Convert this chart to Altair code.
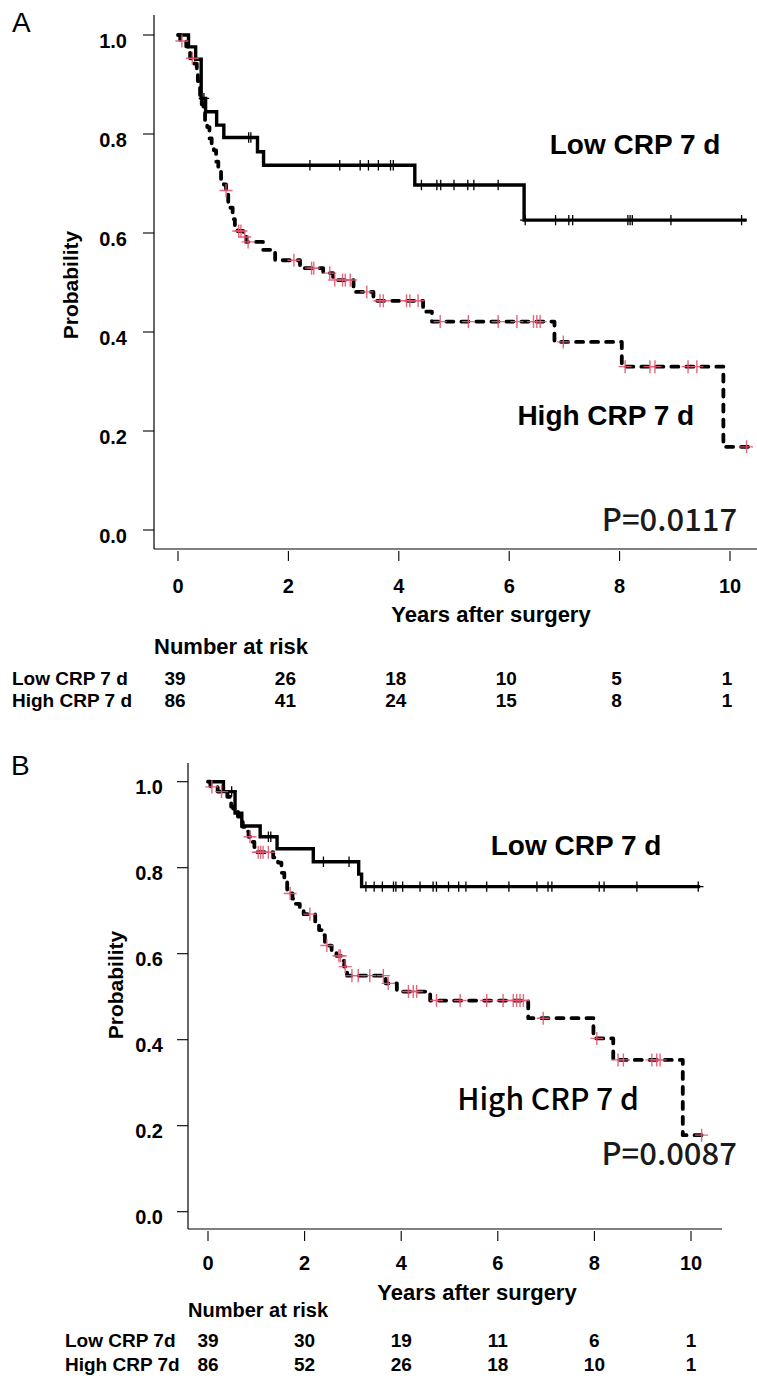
import altair as alt
import pandas as pd

W, H = 757, 1379
ARIAL = "Liberation Sans, Arial, Helvetica, sans-serif"
CJK = "Noto Sans CJK JP, Noto Sans, sans-serif"
PINK = "#E4576F"

# ---------------- Panel A data ----------------
A_LOW_T = [0, 0.19, 0.32, 0.42, 0.50, 0.70, 0.83, 1.44, 1.55, 4.29, 6.27, 10.30]
A_LOW_S = [1.0, 0.976, 0.951, 0.872, 0.845, 0.818, 0.793, 0.764, 0.737, 0.697, 0.626, 0.626]
A_LOW_CT = [0.47, 1.28, 1.32, 2.39, 2.93, 3.30, 3.45, 3.63, 3.85, 3.90, 4.41, 4.69, 4.76,
            5.00, 5.25, 5.36, 5.80, 6.29, 6.84, 7.08, 7.15, 8.15, 8.19, 8.23, 8.93, 10.21]
A_LOW_CS = [0.872, 0.793, 0.793, 0.737, 0.737, 0.737, 0.737, 0.737, 0.737, 0.737, 0.697, 0.697, 0.697,
            0.697, 0.697, 0.697, 0.697, 0.626, 0.626, 0.626, 0.626, 0.626, 0.626, 0.626, 0.626, 0.626]

A_HIGH_T = [0, 0.04, 0.15, 0.22, 0.30, 0.34, 0.36, 0.38, 0.40, 0.43, 0.46, 0.49, 0.53, 0.57, 0.61,
            0.65, 0.69, 0.73, 0.78, 0.83, 0.87, 0.91, 0.95, 0.99, 1.03, 1.08, 1.18, 1.24, 1.54,
            1.76, 2.21, 2.63, 2.81, 3.18, 3.54, 4.44, 4.60, 6.82, 8.04, 9.88, 10.35]
A_HIGH_S = [1.0, 0.988, 0.977, 0.953, 0.942, 0.930, 0.907, 0.895, 0.872, 0.860, 0.849, 0.826, 0.814,
            0.791, 0.779, 0.767, 0.744, 0.733, 0.709, 0.698, 0.686, 0.663, 0.651, 0.628, 0.616,
            0.604, 0.592, 0.582, 0.566, 0.545, 0.529, 0.519, 0.505, 0.481, 0.463, 0.441, 0.421,
            0.380, 0.330, 0.168, 0.168]
A_HIGH_CT = [0.07, 0.26, 0.87, 1.10, 1.14, 1.21, 1.27, 2.10, 2.42, 2.46, 2.75, 2.84, 2.98, 3.03,
             3.12, 3.42, 3.66, 3.72, 4.14, 4.20, 4.35, 4.75, 5.26, 5.80, 6.14, 6.44, 6.50, 6.56,
             6.98, 8.10, 8.55, 8.64, 9.24, 9.40, 10.30]
A_HIGH_CS = [0.988, 0.953, 0.686, 0.604, 0.604, 0.592, 0.582, 0.545, 0.529, 0.529, 0.519, 0.505,
             0.505, 0.505, 0.505, 0.481, 0.463, 0.463, 0.463, 0.463, 0.463, 0.421, 0.421, 0.421,
             0.421, 0.421, 0.421, 0.421, 0.380, 0.330, 0.330, 0.330, 0.330, 0.330, 0.168]

# ---------------- Panel B data ----------------
B_LOW_T = [0, 0.32, 0.56, 0.70, 1.08, 1.43, 2.18, 3.12, 3.18, 10.19]
B_LOW_S = [1.0, 0.977, 0.927, 0.897, 0.872, 0.844, 0.814, 0.785, 0.756, 0.756]
B_LOW_CT = [0.49, 1.25, 1.30, 2.39, 2.92, 3.27, 3.44, 3.61, 3.84, 3.89, 4.03, 4.39, 4.66, 4.73,
            4.98, 5.19, 5.34, 5.77, 6.23, 6.81, 7.04, 7.12, 8.10, 8.20, 8.88, 10.15]
B_LOW_CS = [0.977, 0.872, 0.872, 0.814, 0.814, 0.756, 0.756, 0.756, 0.756, 0.756, 0.756, 0.756,
            0.756, 0.756, 0.756, 0.756, 0.756, 0.756, 0.756, 0.756, 0.756, 0.756, 0.756, 0.756,
            0.756, 0.756]

B_HIGH_T = [0, 0.05, 0.20, 0.40, 0.45, 0.48, 0.52, 0.62, 0.68, 0.72, 0.80, 0.84, 0.92, 0.96, 1.00,
            1.35, 1.45, 1.52, 1.58, 1.64, 1.75, 1.80, 1.90, 1.98, 2.22, 2.30, 2.36, 2.42, 2.56,
            2.66, 2.78, 2.82, 2.88, 3.68, 3.91, 4.60, 6.63, 7.98, 8.39, 9.83, 10.30]
B_HIGH_S = [1.0, 0.988, 0.977, 0.965, 0.953, 0.942, 0.930, 0.919, 0.907, 0.895, 0.884, 0.872,
            0.860, 0.848, 0.836, 0.824, 0.812, 0.788, 0.776, 0.740, 0.728, 0.716, 0.704, 0.692,
            0.668, 0.655, 0.643, 0.619, 0.607, 0.595, 0.583, 0.570, 0.549, 0.531, 0.512, 0.491,
            0.450, 0.403, 0.353, 0.178, 0.178]
B_HIGH_CT = [0.08, 0.28, 0.87, 1.04, 1.09, 1.14, 1.25, 1.70, 2.11, 2.46, 2.71, 2.74, 2.84, 2.98,
             3.11, 3.35, 3.63, 3.73, 4.15, 4.25, 4.32, 4.73, 5.22, 5.77, 6.11, 6.32, 6.39, 6.46,
             6.53, 6.94, 8.05, 8.49, 8.60, 9.19, 9.29, 9.36, 10.22]
B_HIGH_CS = [0.988, 0.977, 0.872, 0.836, 0.836, 0.836, 0.836, 0.740, 0.692, 0.619, 0.595, 0.595,
             0.570, 0.549, 0.549, 0.549, 0.549, 0.531, 0.512, 0.512, 0.512, 0.491, 0.491, 0.491,
             0.491, 0.491, 0.491, 0.491, 0.491, 0.450, 0.403, 0.353, 0.353, 0.353, 0.353, 0.353,
             0.178]

# ---------------- Number at risk ----------------
RISK_TIMES = [0, 2, 4, 6, 8, 10]
A_RISK_LOW = [39, 26, 18, 10, 5, 1]
A_RISK_HIGH = [86, 41, 24, 15, 8, 1]
B_RISK_LOW = [39, 30, 19, 11, 6, 1]
B_RISK_HIGH = [86, 52, 26, 18, 10, 1]

X_TICKS = [0, 2, 4, 6, 8, 10]
X_LABELS = ["0", "2", "4", "6", "8", "10"]
Y_TICKS = [0.0, 0.2, 0.4, 0.6, 0.8, 1.0]
Y_LABELS = ["0.0", "0.2", "0.4", "0.6", "0.8", "1.0"]

# annotations: text, t, s
A_NOTES = [("Low CRP 7 d", 8.28, 0.776), ("High CRP 7 d", 7.75, 0.228)]
A_P = ("P=0.0117", 10.13, 0.016)
B_NOTES = [("Low CRP 7 d", 7.62, 0.848)]
B_HIGH_NOTE = ("High CRP 7 d", 7.04, 0.257)
B_P = ("P=0.0087", 10.95, 0.130)

DUMMY = pd.DataFrame({"d": [0]})


def static_text(text, x, y, size, weight="bold", font=ARIAL, align="center",
                baseline="middle", angle=0):
    kw = dict(text=text, font=font, fontSize=size, fontWeight=weight, align=align,
              baseline=baseline, color="black")
    if angle:
        kw["angle"] = angle
    return alt.Chart(DUMMY).mark_text(**kw).encode(x=alt.value(x), y=alt.value(y))


def panel(g, low_t, low_s, low_ct, low_cs, high_t, high_s, high_ct, high_cs,
          risk_low, risk_high, notes, high_note_cjk, pnote):
    ppt = g["ppt"]
    ppu = g["y0"] - g["y1"]
    xdom = [-g["x0"] / ppt, (W - g["x0"]) / ppt]
    ydom = [(g["y0"] - H) / ppu, g["y0"] / ppu]
    xs = alt.Scale(domain=xdom, nice=False, zero=False)
    ys = alt.Scale(domain=ydom, nice=False, zero=False)

    def X(f):
        return alt.X(f, type="quantitative", scale=xs, axis=None)

    def Y(f):
        return alt.Y(f, type="quantitative", scale=ys, axis=None)

    low_df = pd.DataFrame({"t": low_t, "s": low_s})
    high_df = pd.DataFrame({"t": high_t, "s": high_s})
    lowc_df = pd.DataFrame({"t": low_ct, "s": low_cs})
    highc_df = pd.DataFrame({"t": high_ct, "s": high_cs})

    low_line = alt.Chart(low_df).mark_line(
        interpolate="step-after", color="black", strokeWidth=3.4, strokeCap="butt"
    ).encode(x=X("t"), y=Y("s"))
    high_line = alt.Chart(high_df).mark_line(
        interpolate="step-after", color="black", strokeWidth=3.8, strokeDash=[7, 8],
        strokeCap="round", strokeJoin="round"
    ).encode(x=X("t"), y=Y("s"))

    plus = "M-1,0L1,0M0,-1L0,1"
    low_c = alt.Chart(lowc_df).mark_point(
        shape=plus, filled=False, color="black", strokeWidth=1.3, size=110, opacity=1
    ).encode(x=X("t"), y=Y("s"))
    high_c = alt.Chart(highc_df).mark_point(
        shape=plus, filled=False, color=PINK, strokeWidth=1.4, size=170, opacity=0.9
    ).encode(x=X("t"), y=Y("s"))

    notes_df = pd.DataFrame({"label": [n[0] for n in notes], "t": [n[1] for n in notes],
                             "s": [n[2] for n in notes]})
    notes_layer = alt.Chart(notes_df).mark_text(
        font=ARIAL, fontSize=28, fontWeight="bold", color="black", align="center",
        baseline="middle"
    ).encode(x=X("t"), y=Y("s"), text="label:N")

    layers = [low_line, high_line, low_c, high_c, notes_layer]

    if high_note_cjk is not None:
        hn = pd.DataFrame({"label": [high_note_cjk[0]], "t": [high_note_cjk[1]],
                           "s": [high_note_cjk[2]]})
        layers.append(alt.Chart(hn).mark_text(
            font=CJK, fontSize=30, fontWeight=500, color="black", align="center",
            baseline="middle"
        ).encode(x=X("t"), y=Y("s"), text="label:N"))

    pdf = pd.DataFrame({"label": [pnote[0]], "t": [pnote[1]], "s": [pnote[2]]})
    layers.append(alt.Chart(pdf).mark_text(
        font=CJK, fontSize=31, fontWeight=500, color="#1a1a1a", align="right",
        baseline="middle"
    ).encode(x=X("t"), y=Y("s"), text="label:N"))

    # L-shaped frame
    layers.append(alt.Chart(DUMMY).mark_rule(color="black", strokeWidth=1.2).encode(
        x=alt.value(g["frame_left"]), y=alt.value(g["frame_top"]), y2=alt.value(g["frame_bottom"])))
    layers.append(alt.Chart(DUMMY).mark_rule(color="black", strokeWidth=1.2).encode(
        x=alt.value(g["frame_left"]), x2=alt.value(g["frame_right"]), y=alt.value(g["frame_bottom"])))

    # x axis ticks and labels (through the x scale)
    xt = pd.DataFrame({"t": X_TICKS, "lab": X_LABELS})
    layers.append(alt.Chart(xt).mark_rule(color="black", strokeWidth=1.1).encode(
        x=X("t"), y=alt.value(g["xtick_top"]), y2=alt.value(g["xtick_top"] + 10)))
    layers.append(alt.Chart(xt).mark_text(
        font=ARIAL, fontSize=g["tick_fs"], fontWeight="bold", color="black", align="center",
        baseline="middle"
    ).encode(x=X("t"), y=alt.value(g["xlab_y"]), text="lab:N"))

    # y axis ticks and labels (through the y scale)
    yt = pd.DataFrame({"s": Y_TICKS, "lab": Y_LABELS})
    layers.append(alt.Chart(yt).mark_rule(color="black", strokeWidth=1.1).encode(
        y=Y("s"), x=alt.value(g["frame_left"] - 11), x2=alt.value(g["frame_left"])))
    layers.append(alt.Chart(yt).mark_text(
        font=ARIAL, fontSize=g["tick_fs"], fontWeight="bold", color="black", align="right",
        baseline="middle", dy=g["ylab_off"]
    ).encode(y=Y("s"), x=alt.value(g["ylab_right"]), text="lab:N"))

    # number at risk rows
    rl = pd.DataFrame({"t": RISK_TIMES, "n": risk_low})
    rh = pd.DataFrame({"t": RISK_TIMES, "n": risk_high})
    for df, yy in ((rl, g["row1_y"]), (rh, g["row2_y"])):
        layers.append(alt.Chart(df).mark_text(
            font=ARIAL, fontSize=g["risk_fs"], fontWeight="bold", color="black",
            align="center", baseline="middle", dx=g["risk_dx"]
        ).encode(x=X("t"), y=alt.value(yy), text="n:Q"))

    # static texts
    layers.append(static_text(g["letter"], g["letter_x"], g["letter_y"], 28, weight="normal",
                              align="left", baseline="alphabetic"))
    layers.append(static_text("Probability", g["ytitle_x"], g["ytitle_y"], g["title_fs"], angle=270))
    layers.append(static_text("Years after surgery", g["xtitle_x"], g["xtitle_y"], g["xtitle_fs"]))
    layers.append(static_text("Number at risk", g["nar_x"], g["nar_y"], g["nar_fs"], align="left"))
    layers.append(static_text(g["row1_label"], g["rowlab_x"], g["row1_y"], g["rowlab_fs"], align="left"))
    layers.append(static_text(g["row2_label"], g["rowlab_x"], g["row2_y"], g["rowlab_fs"], align="left"))

    return alt.layer(*layers)


GA = dict(x0=178, ppt=55.2, y1=35, y0=530, frame_left=154, frame_top=15, frame_bottom=549,
          frame_right=757, xtick_top=551, xlab_y=587, ylab_right=127, ylab_off=7, tick_fs=20,
          letter="A", letter_x=12, letter_y=32, ytitle_x=72, ytitle_y=285, xtitle_x=491,
          xtitle_y=615, title_fs=21, xtitle_fs=22, nar_x=154, nar_y=647, nar_fs=22,
          row1_y=679, row2_y=701, rowlab_x=12, rowlab_fs=19, row1_label="Low CRP 7 d",
          row2_label="High CRP 7 d", risk_fs=19, risk_dx=-3)
GB = dict(x0=208, ppt=48.3, y1=781.7, y0=1211.7, frame_left=188, frame_top=763,
          frame_bottom=1229, frame_right=722, xtick_top=1231, xlab_y=1264, ylab_right=163,
          ylab_off=6, tick_fs=20, letter="B", letter_x=11, letter_y=775, ytitle_x=117,
          ytitle_y=985, xtitle_x=477, xtitle_y=1293, title_fs=21, xtitle_fs=22, nar_x=188,
          nar_y=1311, nar_fs=20, row1_y=1341, row2_y=1365, rowlab_x=65, rowlab_fs=19,
          row1_label="Low CRP 7d", row2_label="High CRP 7d", risk_fs=19, risk_dx=0)

panel_a = panel(GA, A_LOW_T, A_LOW_S, A_LOW_CT, A_LOW_CS, A_HIGH_T, A_HIGH_S, A_HIGH_CT,
                A_HIGH_CS, A_RISK_LOW, A_RISK_HIGH, A_NOTES, None, A_P)
panel_b = panel(GB, B_LOW_T, B_LOW_S, B_LOW_CT, B_LOW_CS, B_HIGH_T, B_HIGH_S, B_HIGH_CT,
                B_HIGH_CS, B_RISK_LOW, B_RISK_HIGH, B_NOTES, B_HIGH_NOTE, B_P)

chart = alt.layer(panel_a, panel_b).resolve_scale(
    x="independent", y="independent"
).properties(
    width=W, height=H, autosize=alt.AutoSizeParams(type="none"), padding=0,
    background="white"
).configure_view(stroke="transparent")

chart.save("out.html", embed_options={"renderer": "svg", "actions": False})
